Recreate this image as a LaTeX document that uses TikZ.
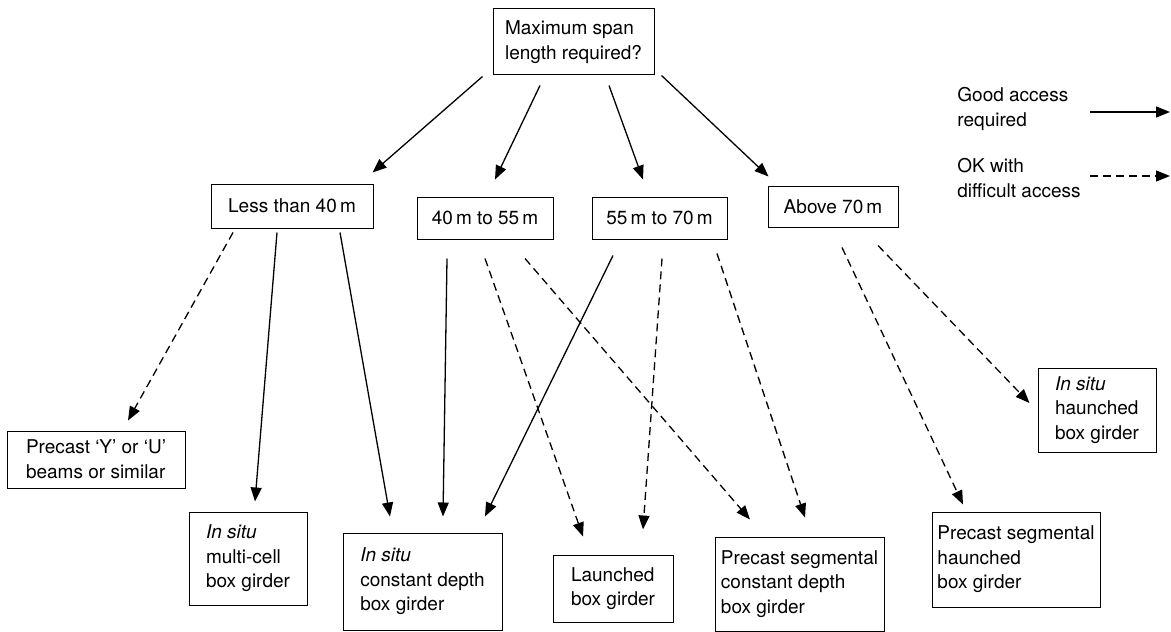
\documentclass[tikz,border=0pt]{standalone}
\usepackage{fontspec}
\setmainfont{TeX Gyre Heros}
\usetikzlibrary{arrows.meta}

\begin{document}
\begin{tikzpicture}[
      x=0.5pt, y=-0.5pt,
      font=\fontsize{9.5}{12.3}\selectfont,
      box/.style={draw, line width=0.5pt, inner sep=0pt, align=left},
      good/.style={line width=0.65pt, ->},
      difficult/.style={good, dash pattern=on 4pt off 2.5pt},
      >={Triangle[length=7pt, width=5.5pt]}
    ]
    \useasboundingbox (0,0) rectangle (1171,631);
    \node[box, minimum width=80.5pt, minimum height=33pt] (span) at (573.5,42) {Maximum span\\length required?};
    \node[box, minimum width=81pt, minimum height=22pt] (lt40) at (292,206) {Less than 40\,m};
    \node[box, minimum width=68pt, minimum height=21pt] (m40to55) at (485,218) {40\,m to 55\,m};
    \node[box, minimum width=67.5pt, minimum height=21pt] (m55to70) at (659.5,218) {55\,m to 70\,m};
    \node[box, minimum width=65pt, minimum height=20.5pt] (gt70) at (833,206.5) {Above 70\,m};
    \node[box, minimum width=89pt, minimum height=28.5pt] (precastyu) at (96,459.5) {Precast `Y' or `U'\\beams or similar};
    \node[box, minimum width=59pt, minimum height=46.5pt] (multicell) at (248,558.5) {\textit{In situ}\\multi-cell\\box girder};
    \node[box, minimum width=79.5pt, minimum height=48.5pt] (constdepth) at (422.5,581.5) {\textit{In situ}\\constant depth\\box girder};
    \node[box, minimum width=60pt, minimum height=33.5pt] (launched) at (613,588.5) {Launched\\box girder};
    \node[box, minimum width=84.5pt, minimum height=47pt] (segconst) at (799.5,584) {Precast segmental\\constant depth\\box girder};
    \node[box, minimum width=84pt, minimum height=47.5pt] (seghaunch) at (1016,559.5) {Precast segmental\\haunched\\box girder};
    \node[box, minimum width=59pt, minimum height=42pt] (haunched) at (1097,410) {\textit{In situ}\\haunched\\box girder};
    \node[anchor=west, align=left, inner sep=0pt] (goodtxt) at (957,109) {Good access\\required};
    \node[anchor=west, align=left, inner sep=0pt] (oktxt) at (957,178) {OK with\\difficult access};
    \coordinate (goodA) at (1090,112);
    \coordinate (goodB) at (1170,112);
    \coordinate (okA) at (1090,176);
    \coordinate (okB) at (1170,176);
    \draw[good] (goodA) -- (goodB);
    \draw[difficult] (okA) -- (okB);
    \draw[good] ([xshift=-5pt,yshift=-0.5pt]span.south west) -- ([xshift=-0.5pt,yshift=5.5pt]lt40.north east);
    \draw[good] ([xshift=-16.75pt,yshift=-5pt]span.south) -- ([xshift=5pt,yshift=8.5pt]m40to55.north);
    \draw[good] ([xshift=17.75pt,yshift=-5pt]span.south) -- ([xshift=-8.25pt,yshift=8.5pt]m55to70.north);
    \draw[good] ([xshift=3.5pt]span.south east) -- ([xshift=0.5pt,yshift=4.5pt]gt70.north west);
    \draw[difficult] ([xshift=-29.5pt,yshift=-2pt]lt40.south) -- ([xshift=16pt,yshift=5pt]precastyu.north);
    \draw[good] ([xshift=-7.5pt,yshift=-2pt]lt40.south) -- ([xshift=3.5pt,yshift=5pt]multicell.north);
    \draw[good] ([xshift=24pt,yshift=-2pt]lt40.south) -- ([xshift=-16.25pt,yshift=8pt]constdepth.north);
    \draw[good] ([xshift=-19pt,yshift=-9.5pt]m40to55.south) -- ([xshift=10.25pt,yshift=8pt]constdepth.north);
    \draw[difficult] ([yshift=-9.5pt]m40to55.south) -- ([xshift=-15pt,yshift=9pt]launched.north);
    \draw[difficult] ([xshift=20pt,yshift=-9.5pt]m40to55.south) -- ([xshift=-24.75pt,yshift=8.5pt]segconst.north);
    \draw[good] ([xshift=-23.25pt,yshift=-8pt]m55to70.south) -- ([xshift=31.25pt,yshift=8pt]constdepth.north);
    \draw[difficult] ([xshift=1.25pt,yshift=-9.5pt]m55to70.south) -- ([xshift=15pt,yshift=12.5pt]launched.north);
    \draw[difficult] ([xshift=28.75pt,yshift=-7pt]m55to70.south) -- ([xshift=2.75pt,yshift=9.5pt]segconst.north);
    \draw[difficult] ([xshift=4.5pt,yshift=-10pt]gt70.south) -- ([xshift=-26.5pt,yshift=3.5pt]seghaunch.north);
    \draw[difficult] ([xshift=22.5pt,yshift=-9pt]gt70.south) -- ([xshift=-4pt,yshift=3.5pt]haunched.west);
  \end{tikzpicture}
\end{document}
